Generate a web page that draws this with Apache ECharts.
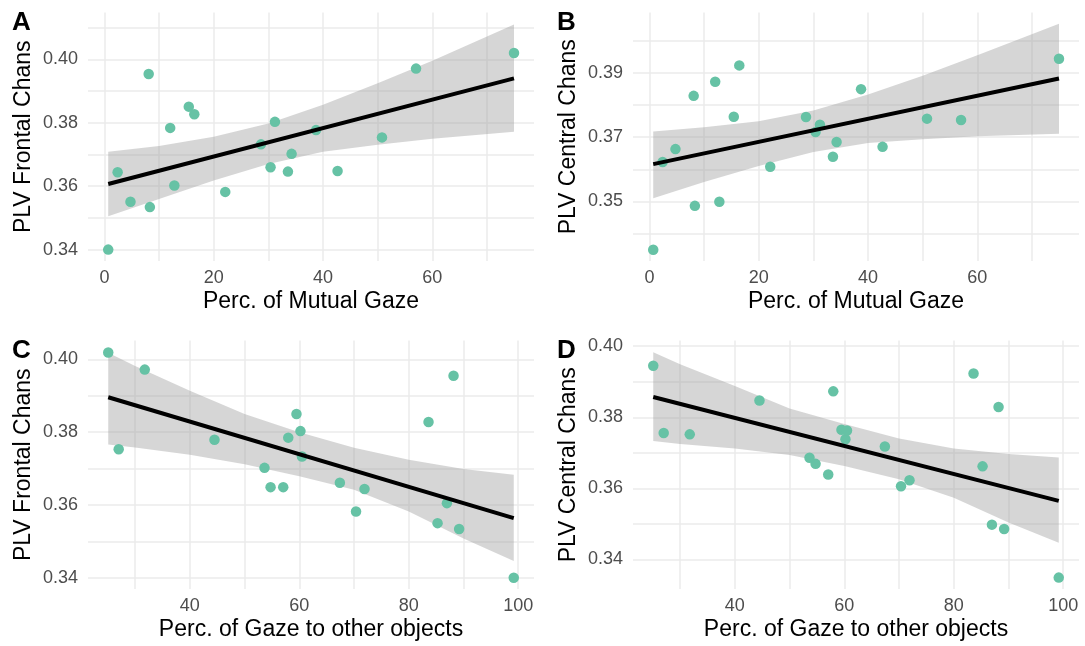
<!DOCTYPE html>
<html>
<head>
<meta charset="utf-8">
<script src="https://cdn.jsdelivr.net/npm/echarts@6/dist/echarts.min.js"></script>
<style>
  html, body { margin: 0; background: #fff; }
  #chart { width: 1085px; height: 646px; }
</style>
</head>
<body>
<div id="chart"></div>
<script>
// x values (percent of gaze)
const mutualGaze = [0.70, 2.42, 4.77, 8.10, 8.32, 12.04, 12.80, 15.44, 16.45, 22.11, 28.65, 30.40, 31.20, 33.58, 34.25, 38.72, 42.66, 50.79, 57.02, 74.94];
const otherGaze = [25.09, 27.00, 31.76, 44.50, 53.64, 54.75, 57.06, 57.98, 59.48, 60.21, 60.49, 67.41, 70.36, 71.91, 83.61, 85.26, 86.97, 88.18, 89.20, 99.18];

// PLV per panel
const plvA = [0.3400, 0.3644, 0.3551, 0.3954, 0.3534, 0.3784, 0.3602, 0.3851, 0.3827, 0.3582, 0.3732, 0.3660, 0.3803, 0.3646, 0.3702, 0.3777, 0.3648, 0.3754, 0.3971, 0.4020];
const plvB = [0.3349, 0.3623, 0.3663, 0.3829, 0.3486, 0.3873, 0.3499, 0.3764, 0.3924, 0.3608, 0.3763, 0.3716, 0.3739, 0.3639, 0.3685, 0.3850, 0.3670, 0.3758, 0.3754, 0.3945];
const plvC = [0.4019, 0.3753, 0.3972, 0.3779, 0.3702, 0.3649, 0.3649, 0.3785, 0.3850, 0.3803, 0.3733, 0.3661, 0.3582, 0.3644, 0.3828, 0.3550, 0.3605, 0.3955, 0.3534, 0.3400];
const plvD = [0.3945, 0.3756, 0.3752, 0.3847, 0.3686, 0.3669, 0.3639, 0.3873, 0.3765, 0.3738, 0.3763, 0.3718, 0.3606, 0.3623, 0.3923, 0.3662, 0.3498, 0.3829, 0.3486, 0.3349];

// fitted lines (end points)
const fitA = [[0.70, 0.3607], [74.94, 0.3940]];
const fitB = [[0.70, 0.3616], [74.94, 0.3883]];
const fitC = [[25.09, 0.3896], [99.18, 0.3564]];
const fitD = [[25.09, 0.3857], [99.18, 0.3565]];

// confidence bands
const bandXTop = [0.70, 10, 20, 30, 40, 50, 60, 74.94];
const bandAUp = [0.3709, 0.3727, 0.3756, 0.3798, 0.3857, 0.3925, 0.3996, 0.4110];
const bandALo = [0.3505, 0.3560, 0.3618, 0.3670, 0.3709, 0.3731, 0.3750, 0.3772];
const bandBUp = [0.3718, 0.3731, 0.3750, 0.3783, 0.3833, 0.3892, 0.3956, 0.4054];
const bandBLo = [0.3510, 0.3560, 0.3610, 0.3654, 0.3682, 0.3694, 0.3703, 0.3711];
const bandXBottom = [25.09, 30, 40, 50, 60, 70, 80, 90, 99.18];
const bandCUp = [0.4018, 0.3982, 0.3914, 0.3850, 0.3800, 0.3757, 0.3724, 0.3699, 0.3683];
const bandCLo = [0.3766, 0.3758, 0.3738, 0.3712, 0.3679, 0.3642, 0.3582, 0.3508, 0.3446];
const bandDUp = [0.3983, 0.3949, 0.3888, 0.3825, 0.3781, 0.3740, 0.3712, 0.3697, 0.3687];
const bandDLo = [0.3733, 0.3725, 0.3712, 0.3694, 0.3663, 0.3626, 0.3574, 0.3504, 0.3447];

// ticks / labels
const mutualGrid = [0, 10, 20, 30, 40, 50, 60, 70];
const mutualLabels = [0, 20, 40, 60];
const otherGrid = [30, 40, 50, 60, 70, 80, 90, 100];
const otherLabels = [40, 60, 80, 100];
const plvGridA = [0.34, 0.35, 0.36, 0.37, 0.38, 0.39, 0.40, 0.41];
const plvGrid = [0.34, 0.35, 0.36, 0.37, 0.38, 0.39, 0.40];
const plvLabelsEven = [0.34, 0.36, 0.38, 0.40];
const plvLabelsOdd = [0.35, 0.37, 0.39];

const FONT = '"Liberation Sans", Arial, sans-serif';
const GREEN = '#66C2A5';

// 面板布局
const panels = [
  { letter: 'A', left: 88, top: 12.5, xr: [-3, 78.6], yr: [0.3364, 0.4148], xg: mutualGrid, xl: mutualLabels, yg: plvGridA, yl: plvLabelsEven,
    xName: 'Perc. of Mutual Gaze', yName: 'PLV Frontal Chans', xs: mutualGaze, ys: plvA, fit: fitA, bx: bandXTop, up: bandAUp, lo: bandALo },
  { letter: 'B', left: 633, top: 12.5, xr: [-3, 78.6], yr: [0.3314, 0.4089], xg: mutualGrid, xl: mutualLabels, yg: plvGrid, yl: plvLabelsOdd,
    xName: 'Perc. of Mutual Gaze', yName: 'PLV Central Chans', xs: mutualGaze, ys: plvB, fit: fitB, bx: bandXTop, up: bandBUp, lo: bandBLo },
  { letter: 'C', left: 88, top: 340.5, xr: [21.39, 102.88], yr: [0.3369, 0.4052], xg: otherGrid, xl: otherLabels, yg: plvGrid, yl: plvLabelsEven,
    xName: 'Perc. of Gaze to other objects', yName: 'PLV Frontal Chans', xs: otherGaze, ys: plvC, fit: fitC, bx: bandXBottom, up: bandCUp, lo: bandCLo },
  { letter: 'D', left: 633, top: 340.5, xr: [21.39, 102.88], yr: [0.3317, 0.4016], xg: otherGrid, xl: otherLabels, yg: plvGrid, yl: plvLabelsEven,
    xName: 'Perc. of Gaze to other objects', yName: 'PLV Central Chans', xs: otherGaze, ys: plvD, fit: fitD, bx: bandXBottom, up: bandDUp, lo: bandDLo }
];

const grid = [], xAxis = [], yAxis = [], series = [], graphic = [];

panels.forEach((p, i) => {
  grid.push({ left: p.left, top: p.top, width: 446, height: 248.5 });

  xAxis.push({
    type: 'value', gridIndex: i, min: p.xr[0], max: p.xr[1],
    name: p.xName, nameLocation: 'middle', nameGap: 29,
    nameTextStyle: { color: '#000', fontSize: 23, fontFamily: FONT },
    axisLine: { show: false },
    axisTick: { show: false, customValues: p.xg },
    axisLabel: { customValues: p.xl, color: '#4D4D4D', fontSize: 18, fontFamily: FONT, margin: 8 },
    splitLine: { show: true, lineStyle: { color: '#EBEBEB', width: 1.5 } }
  });

  yAxis.push({
    type: 'value', gridIndex: i, min: p.yr[0], max: p.yr[1],
    name: p.yName, nameLocation: 'middle', nameGap: 53,
    nameTextStyle: { color: '#000', fontSize: 23, fontFamily: FONT },
    axisLine: { show: false },
    axisTick: { show: false, customValues: p.yg },
    axisLabel: { customValues: p.yl, color: '#4D4D4D', fontSize: 18, fontFamily: FONT, margin: 10,
      formatter: v => v.toFixed(2) },
    splitLine: { show: true, lineStyle: { color: '#EBEBEB', width: 1.5 } }
  });

  // points
  series.push({
    type: 'scatter', xAxisIndex: i, yAxisIndex: i,
    data: p.xs.map((x, k) => [x, p.ys[k]]),
    symbolSize: 10.5, itemStyle: { color: GREEN, opacity: 1 }, silent: true
  });

  // band polygon
  series.push({
    type: 'custom', xAxisIndex: i, yAxisIndex: i,
    data: p.bx.map((x, k) => [x, p.up[k], p.lo[k]]),
    encode: { x: 0, y: [1, 2] }, silent: true,
    renderItem: (params, api) => {
      if (params.dataIndex !== 0) return;
      const pts = [];
      for (let k = 0; k < p.bx.length; k++) pts.push(api.coord([p.bx[k], p.up[k]]));
      for (let k = p.bx.length - 1; k >= 0; k--) pts.push(api.coord([p.bx[k], p.lo[k]]));
      return { type: 'polygon', shape: { points: pts }, style: { fill: 'rgba(153,153,153,0.4)' } };
    }
  });

  // fitted line
  series.push({
    type: 'line', xAxisIndex: i, yAxisIndex: i, data: p.fit,
    symbol: 'none', silent: true, lineStyle: { color: '#000', width: 4 }
  });

  graphic.push({
    type: 'text', left: p.left === 88 ? 12 : 557, top: p.top - 3,
    style: { text: p.letter, font: 'bold 26px ' + FONT, fill: '#000' }
  });
});

const chart = echarts.init(document.getElementById('chart'));
chart.setOption({ animation: false, grid, xAxis, yAxis, series, graphic });
</script>
</body>
</html>
